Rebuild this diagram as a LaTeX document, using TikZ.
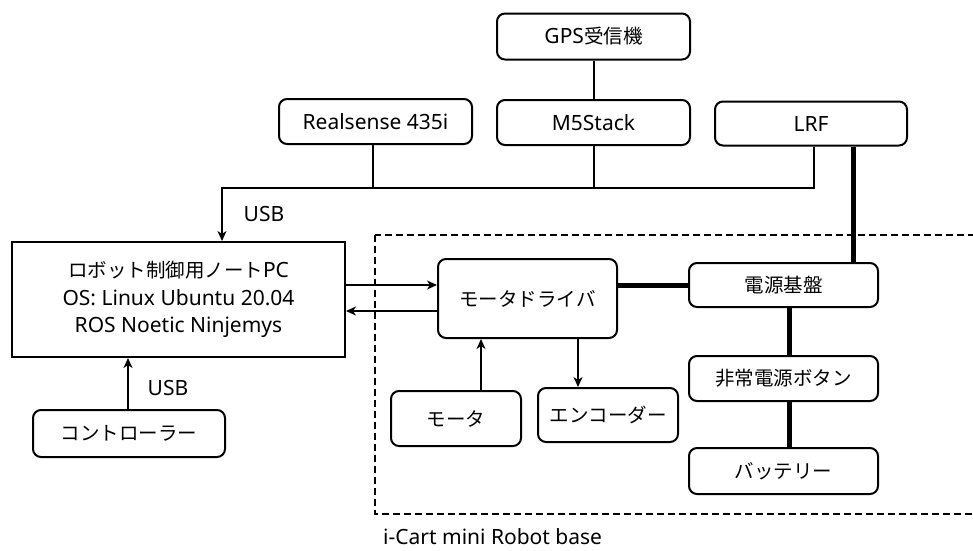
\documentclass[tikz,border=0pt]{standalone}
\usepackage{fontspec}
\setmainfont{Noto Sans}
\newfontfamily\jpfont{Noto Sans CJK JP}
\newcommand{\jtxt}[1]{{\jpfont\fontsize{19.5}{27.5}\selectfont #1}}
\usetikzlibrary{arrows.meta}
\tikzset{
  box/.style={draw, line width=2pt, rounded corners=8pt, inner sep=0pt, align=center},
  sbox/.style={draw, line width=2pt, inner sep=0pt, align=center},
  conn/.style={line width=2pt},
  arr/.style={line width=2pt, -{Stealth[length=10pt,width=9pt,inset=3pt]}},
  power/.style={line width=5pt},
  lbl/.style={inner sep=0pt}
}
\begin{document}
\begin{tikzpicture}[x=1pt,y=-1pt,font=\fontsize{21}{27.5}\selectfont]
\useasboundingbox (0,0) rectangle (973,550);
% dashed robot base region
\draw[line width=2pt, dash pattern=on 7pt off 4pt] (375,235) rectangle (990,514);
\node[lbl, anchor=west] (baselbl) at (383,537) {i-Cart mini Robot base};
% nodes
\node[box, minimum width=193, minimum height=46] (gps) at (593.5,36.5) {GPS\jtxt{受信機}};
\node[box, minimum width=193, minimum height=45] (real) at (375.5,121.5) {Realsense 435i};
\node[box, minimum width=193, minimum height=45] (m5) at (593.5,122.5) {M5Stack};
\node[box, minimum width=192, minimum height=44] (lrf) at (811,123.5) {LRF};
\node[sbox, minimum width=333, minimum height=115] (pc) at (178.5,299.5) {\jtxt{ロボット制御用ノート}PC\\OS: Linux Ubuntu 20.04\\ROS Noetic Ninjemys};
\node[box, minimum width=192, minimum height=47] (ctrl) at (129,433.5) {\jtxt{コントローラー}};
\node[box, minimum width=179, minimum height=79] (drv) at (527.5,298.5) {\jtxt{モータドライバ}};
\node[box, minimum width=189, minimum height=44] (psu) at (783.5,285) {\jtxt{電源基盤}};
\node[box, minimum width=189, minimum height=45] (estop) at (783.5,378.5) {\jtxt{非常電源ボタン}};
\node[box, minimum width=189, minimum height=46] (batt) at (783.5,471) {\jtxt{バッテリー}};
\node[box, minimum width=130, minimum height=55] (motor) at (456,418.5) {\jtxt{モータ}};
\node[box, minimum width=140, minimum height=54] (enc) at (608,415) {\jtxt{エンコーダー}};
% USB bus
\coordinate (bus) at (222,188);
\draw[conn] (gps.south) -- (m5.north);
\draw[conn] ([xshift=-2.5]real.south) -- ([xshift=-2.5]real.south |- bus);
\draw[conn] (m5.south) -- (m5.south |- bus);
\draw[arr] ([xshift=3]lrf.south) |- (bus) -- (bus |- pc.north);
\node[lbl] (usb1) at (264,214) {USB};
% controller
\draw[arr] ([xshift=-1]ctrl.north) -- ([xshift=-1]ctrl.north |- pc.south);
\node[lbl] (usb2) at (168,388) {USB};
% PC <-> driver
\draw[arr] ([yshift=14.5]pc.east) -- ([yshift=14.5]pc.east -| drv.west);
\draw[arr] ([yshift=-11.5]pc.east -| drv.west) -- ([yshift=-11.5]pc.east);
% motor / encoder
\draw[arr] ([xshift=25]motor.north) -- ([xshift=25]motor.north |- drv.south);
\draw[arr] ([xshift=50.5]drv.south) -- ([xshift=50.5]drv.south |- enc.north);
% power lines
\draw[power] (psu.west -| drv.east) -- (psu.west);
\draw[power] ([xshift=42]lrf.south) -- ([xshift=42]lrf.south |- psu.north);
\draw[power] ([xshift=5.5]psu.south) -- ([xshift=5.5]psu.south |- estop.north);
\draw[power] ([xshift=5.5]estop.south) -- ([xshift=5.5]estop.south |- batt.north);
\end{tikzpicture}
\end{document}
